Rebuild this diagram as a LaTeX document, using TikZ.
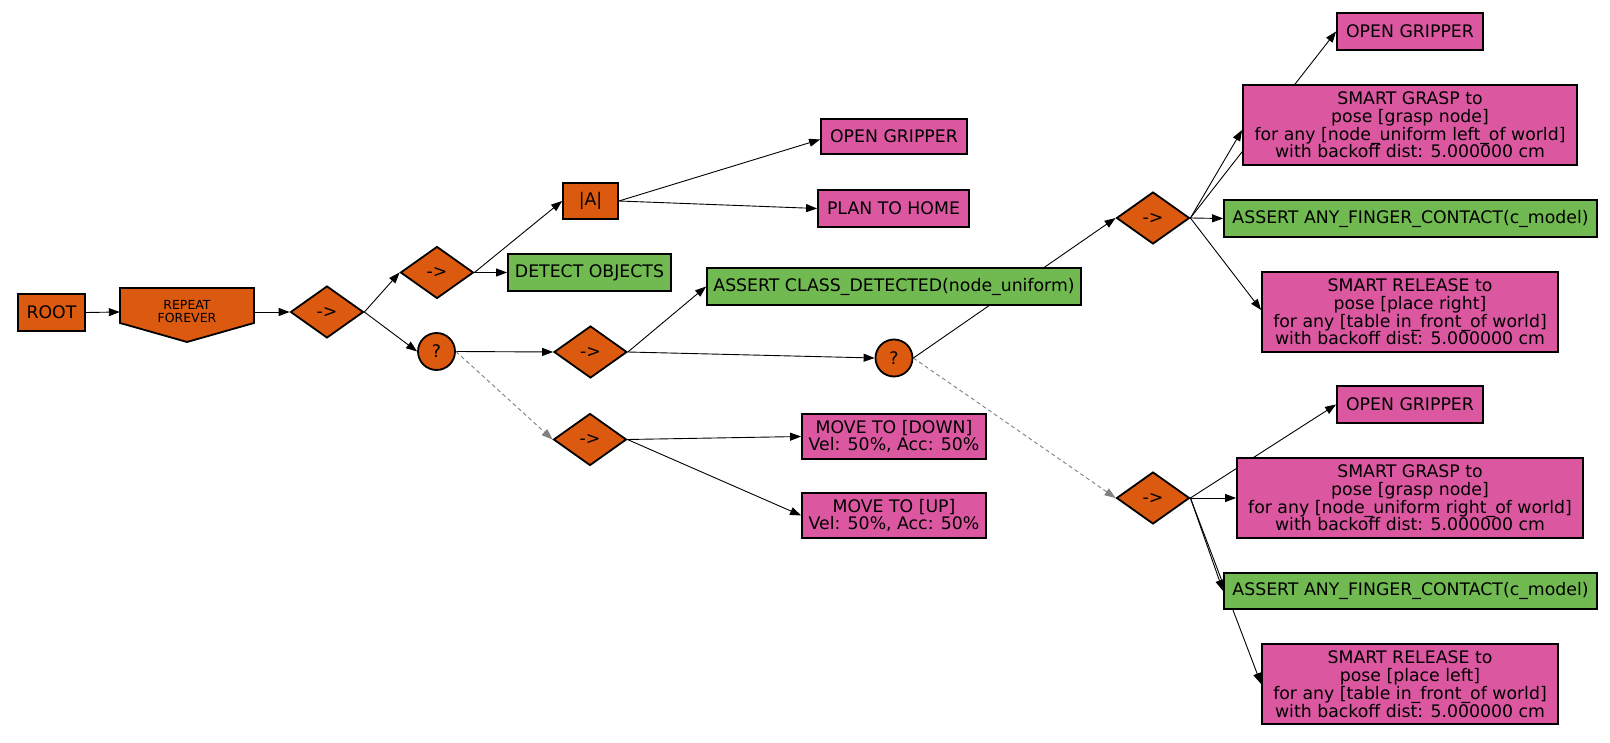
\documentclass[tikz,border=0pt]{standalone}
\usepackage{fontspec}
\setmainfont{DejaVu Sans}
\usetikzlibrary{shapes.geometric,arrows.meta}
\pgfdeclarelayer{bg}
\pgfdeclarelayer{edges}
\pgfsetlayers{bg,edges,main}
\definecolor{bt}{HTML}{DC5A10}
\definecolor{cond}{HTML}{71B951}
\definecolor{act}{HTML}{DB58A1}
\tikzset{
 base/.style={draw=black, line width=1.8pt, inner sep=0pt, align=center, text=black,
   font=\fontsize{17.3}{17.8}\selectfont},
 ob/.style={base, fill=bt, rectangle},
 gb/.style={base, fill=cond, rectangle},
 pb/.style={base, fill=act, rectangle},
 dia/.style={base, fill=bt, diamond, minimum width=73pt, minimum height=52pt},
 sel/.style={base, fill=bt, circle, minimum size=37pt},
 arr/.style={line width=0.9pt, draw=black, -{Triangle[length=11pt,width=8pt]}},
 darr/.style={line width=0.9pt, draw=gray, dash pattern=on 4pt off 3pt, -{Triangle[length=11pt,width=8pt,fill=gray]}},
}
\begin{document}
\begin{tikzpicture}[x=1pt,y=-1pt]
\begin{pgfonlayer}{bg}
\fill[white] (0,0) rectangle (1610,743);
\end{pgfonlayer}
\useasboundingbox (0,0) rectangle (1610,743);

% nodes
\node[ob, minimum width=67pt, minimum height=37pt] (root) at (51.5,312.5) {ROOT};
\filldraw[fill=bt, draw=black, line width=1.8pt, line join=miter] (120,288) -- (254,288) -- (254,323) -- (187,342) -- (120,323) -- cycle;
\node[inner sep=0pt, minimum width=134pt, minimum height=48pt, align=center, font=\fontsize{12.5}{13}\selectfont] (rep) at (187,312) {REPEAT\\FOREVER};
\node[dia] (d1) at (327,312) {->};
\node[dia] (d2) at (437,272.5) {->};
\node[sel] (q1) at (436.5,351.5) {?};
\node[ob, minimum width=55pt, minimum height=36pt] (par) at (590.5,201) {|A|};
\node[gb, minimum width=163pt, minimum height=37pt] (det) at (589.5,272.5) {DETECT OBJECTS};
\node[dia] (d3) at (590.5,352) {->};
\node[dia] (d4) at (590,439.5) {->};
\node[pb, minimum width=146pt, minimum height=35pt] (og0) at (894,136.5) {OPEN GRIPPER};
\node[pb, minimum width=151pt, minimum height=37pt] (plan) at (893.5,208.5) {PLAN TO HOME};
\node[gb, minimum width=374pt, minimum height=37pt] (acd) at (894,286.5) {ASSERT CLASS\_DETECTED(node\_uniform)};
\node[sel] (q2) at (894,358) {?};
\node[pb, minimum width=184pt, minimum height=45pt] (mdown) at (894,436.5) {MOVE TO [DOWN]\\Vel: 50\%, Acc: 50\%};
\node[pb, minimum width=184pt, minimum height=45pt] (mup) at (894,515.5) {MOVE TO [UP]\\Vel: 50\%, Acc: 50\%};
\node[dia] (d5) at (1153,218) {->};
\node[dia] (d6) at (1153,498) {->};
\node[pb, minimum width=146pt, minimum height=37pt] (og1) at (1410,31.5) {OPEN GRIPPER};
\node[pb, minimum width=334pt, minimum height=80pt] (sg1) at (1410,125) {SMART GRASP to\\pose [grasp node]\\for any [node\_uniform left\_of world]\\with backoff dist: 5.000000 cm};
\node[gb, minimum width=373pt, minimum height=37pt] (as1) at (1410.5,218.5) {ASSERT ANY\_FINGER\_CONTACT(c\_model)};
\node[pb, minimum width=296pt, minimum height=80pt] (sr1) at (1410,312) {SMART RELEASE to\\pose [place right]\\for any [table in\_front\_of world]\\with backoff dist: 5.000000 cm};
\node[pb, minimum width=146pt, minimum height=37pt] (og2) at (1410,404.5) {OPEN GRIPPER};
\node[pb, minimum width=346pt, minimum height=80pt] (sg2) at (1410,498) {SMART GRASP to\\pose [grasp node]\\for any [node\_uniform right\_of world]\\with backoff dist: 5.000000 cm};
\node[gb, minimum width=373pt, minimum height=36pt] (as2) at (1410.5,591) {ASSERT ANY\_FINGER\_CONTACT(c\_model)};
\node[pb, minimum width=296pt, minimum height=80pt] (sr2) at (1410,684) {SMART RELEASE to\\pose [place left]\\for any [table in\_front\_of world]\\with backoff dist: 5.000000 cm};

% edges
\begin{pgfonlayer}{edges}
\draw[arr] (root.east) -- (rep.west);
\draw[arr] (rep.east) -- (d1.west);
\draw[arr] (d1.east) -- (d2.west);
\draw[arr] (d1.east) -- (q1.west);
\draw[arr] (d2.east) -- (par.west);
\draw[arr] (d2.east) -- (det.west);
\draw[arr] (par.east) -- ([yshift=-3pt]og0.west);
\draw[arr] (par.east) -- (plan.west);
\draw[arr] (q1.east) -- (d3.west);
\draw[darr] (q1.east) -- (d4.west);
\draw[arr] (d3.east) -- (acd.west);
\draw[arr] (d3.east) -- (q2.west);
\draw[arr] (q2.east) -- (d5.west);
\draw[darr] (q2.east) -- (d6.west);
\draw[arr] (d4.east) -- (mdown.west);
\draw[arr] (d4.east) -- (mup.west);
\draw[arr] (d5.east) -- (og1.west);
\draw[arr] (d5.east) -- ([yshift=-5pt]sg1.west);
\draw[arr] (d5.east) -- (as1.west);
\draw[arr] (d5.east) -- ([yshift=2pt]sr1.west);
\draw[arr] (d6.east) -- (og2.west);
\draw[arr] (d6.east) -- (sg2.west);
\draw[arr] (d6.east) -- (as2.west);
\draw[arr] (d6.east) -- (sr2.west);
\end{pgfonlayer}
\end{tikzpicture}
\end{document}
